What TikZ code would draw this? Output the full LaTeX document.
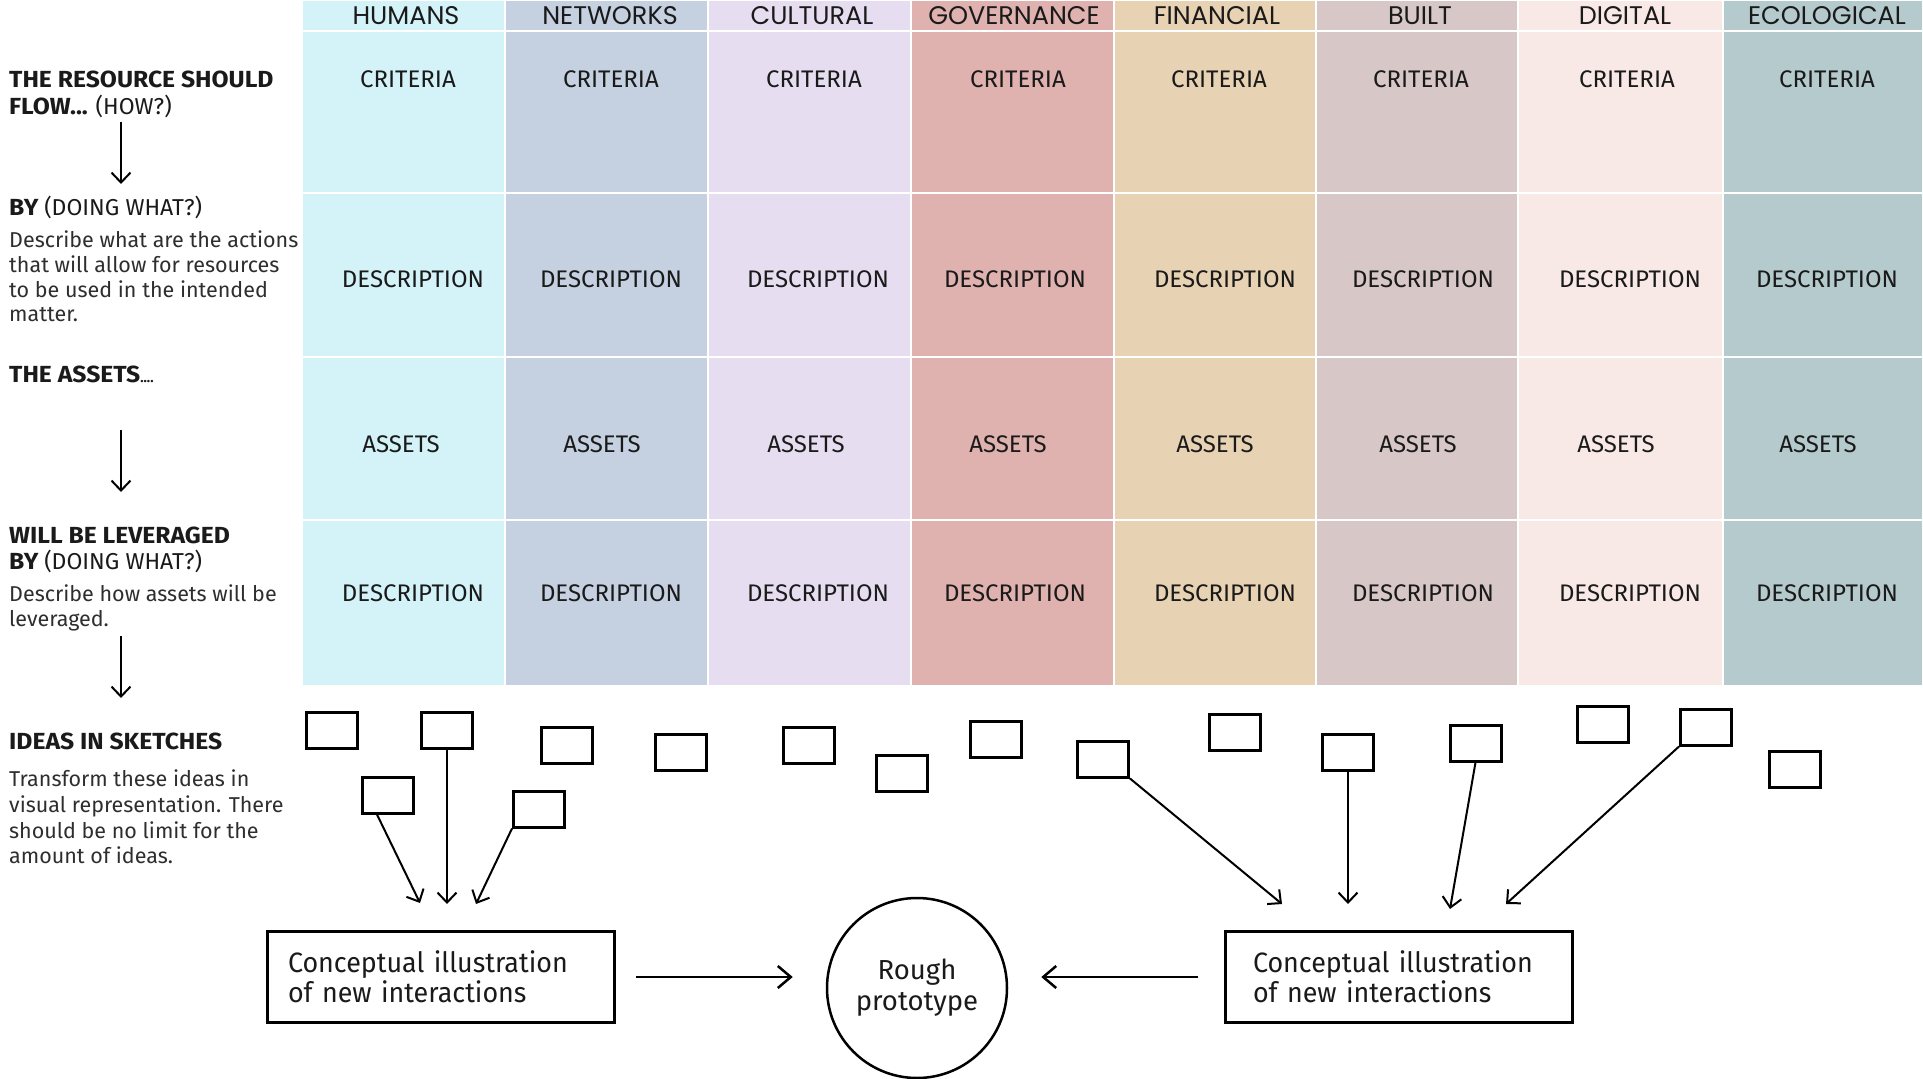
\documentclass[tikz,border=0pt]{standalone}
\usepackage{fontspec}
\setmainfont{Fira Sans}
\newfontfamily\hdfont{Poppins}
\newfontfamily\boxfont{Fira Sans}[FakeStretch=0.96]
\newfontfamily\widefont{Fira Sans}[FakeStretch=1.06]
\usetikzlibrary{arrows.meta}
\definecolor{cHum}{HTML}{D3F3F8}
\definecolor{cNet}{HTML}{C5D0E0}
\definecolor{cCul}{HTML}{E6DEF0}
\definecolor{cGov}{HTML}{DFB1AF}
\definecolor{cFin}{HTML}{E8D2B4}
\definecolor{cBui}{HTML}{D7C7C6}
\definecolor{cDig}{HTML}{F8E9E6}
\definecolor{cEco}{HTML}{B4CACC}
\definecolor{ink}{HTML}{1A1A1A}
\definecolor{body}{HTML}{2E2E2E}
\tikzset{
  hdtext/.style={anchor=base, inner sep=0pt, text=ink, font=\hdfont\fontsize{25.5}{28}\selectfont},
  celltext/.style={anchor=base, inner sep=0pt, text=ink, font=\fontsize{24}{28}\selectfont},
  lefttitle/.style={anchor=base west, inner sep=0pt, text=ink, font=\widefont\bfseries\fontsize{23.3}{26}\selectfont},
  leftbody/.style={anchor=base west, inner sep=0pt, text=body, font=\fontsize{21.5}{25}\selectfont},
  sq/.style={draw=black, line width=3pt, minimum width=51pt, minimum height=36pt, inner sep=0pt},
  cbox/.style={draw=black, line width=3pt, minimum width=347pt, minimum height=91pt, inner sep=0pt,
     text width=306pt, align=left, text=ink, font=\boxfont\fontsize{28}{30}\selectfont},
  proto/.style={draw=black, circle, line width=2.5pt, minimum size=180pt, inner sep=0pt,
     align=center, text=ink, font=\fontsize{27.5}{31}\selectfont},
  sarr/.style={draw=black, line width=2pt, -{Straight Barb[length=10pt,width=19pt,line width=2pt]}},
  barr/.style={draw=black, line width=2.5pt, -{Straight Barb[length=13pt,width=22pt,line width=2.5pt]}},
}
\newcommand\subtxt[1]{{\normalfont\fontsize{23}{26}\selectfont #1}}
\begin{document}
\begin{tikzpicture}[x=1pt,y=-1pt]
\useasboundingbox (0,0) rectangle (1923,1079);
\fill[white] (0,0) rectangle (1923,1079);
% grid cells
\foreach \xa/\xb/\c in {302/505/cHum,505/708/cNet,708/911/cCul,911/1114/cGov,1114/1316/cFin,1316/1518/cBui,1518/1723/cDig,1723/1923/cEco}{
  \foreach \ya/\yb in {0/31,31/193,193/357,357/520,520/686}{
    \filldraw[fill=\c, draw=white, line width=1.5pt] (\xa,\ya) rectangle (\xb,\yb);
  }
}
% headers
\foreach \x/\t [count=\i] in {406/HUMANS,610/NETWORKS,812/CULTURAL,1014/GOVERNANCE,1217/FINANCIAL,1420/BUILT,1625/DIGITAL,1827/ECOLOGICAL}{
  \node[hdtext] (h\i) at (\x,24) {\t};
}
\foreach \x [count=\i] in {408,611,814,1018,1219,1421,1627,1827}{
  \node[celltext] (c\i) at (\x,87) {CRITERIA};
}
\foreach \x [count=\i] in {413,611,818,1015,1225,1423,1630,1827}{
  \node[celltext] (d\i) at (\x,287) {DESCRIPTION};
  \node[celltext] (e\i) at (\x,601) {DESCRIPTION};
}
\foreach \x [count=\i] in {401,602,806,1008,1215,1418,1616,1818}{
  \node[celltext] (a\i) at (\x,452) {ASSETS};
}
% left column
\node[lefttitle] (t1) at (9,87) {THE RESOURCE SHOULD};
\node[lefttitle] (t2) at (9,114) {FLOW... \subtxt{(HOW?)}};
\node[lefttitle] (t3) at (9,215) {BY \subtxt{(DOING WHAT?)}};
\node[leftbody] (t4) at (9,247) {Describe what are the actions};
\node[leftbody] (t5) at (9,272) {that will allow for resources};
\node[leftbody] (t6) at (9,297) {to be used in the intended};
\node[leftbody] (t7) at (9,321) {matter.};
\node[lefttitle] (t8) at (9,382) {THE ASSETS{\fontsize{13}{15}\selectfont....}};
\node[lefttitle] (t9) at (9,543) {WILL BE LEVERAGED};
\node[lefttitle] (t10) at (9,569) {BY \subtxt{(DOING WHAT?)}};
\node[leftbody] (t11) at (9,601) {Describe how assets will be};
\node[leftbody] (t12) at (9,626) {leveraged.};
\node[lefttitle] (t13) at (9,749) {IDEAS IN SKETCHES};
\node[leftbody] (t14) at (9,786) {Transform these ideas in};
\node[leftbody] (t15) at (9,812) {visual representation. There};
\node[leftbody] (t16) at (9,838) {should be no limit for the};
\node[leftbody] (t17) at (9,863) {amount of ideas.};
% left flow arrows
\coordinate (f1a) at (121,122); \coordinate (f1b) at (121,184);
\coordinate (f2a) at (121,430); \coordinate (f2b) at (121,492);
\coordinate (f3a) at (121,636); \coordinate (f3b) at (121,698);
\draw[sarr] (f1a) -- (f1b);
\draw[sarr] (f2a) -- (f2b);
\draw[sarr] (f3a) -- (f3b);
% sketch squares
\foreach \x/\y [count=\i] in {332/730,447/730,567/745,681/752,809/745,902/773,996/739,1103/759,1235/732,1348/752,1475.5/743,1603/724,1706/727,1794.5/769,388/795,539/809}{
  \node[sq] (s\i) at (\x,\y) {};
}
% boxes and prototype
\node[cbox] (lb) at (441,977) {Conceptual illustration\\of new interactions};
\node[cbox, text width=292pt] (rb) at (1399,977) {Conceptual illustration\\of new interactions};
\node[proto] (rp) at (917,988) {Rough\\prototype};
% arrow targets
\coordinate (p1) at (420,903);
\coordinate (p2) at (447,904);
\coordinate (p3) at (476,904);
\coordinate (q1) at (1282,904);
\coordinate (q2) at (1348,904);
\coordinate (q3) at (1450,909);
\coordinate (q4) at (1506,904);
\draw[sarr] ([xshift=-11pt]s15.south) -- (p1);
\draw[sarr] (s2.south) -- (p2);
\draw[sarr] (s16.south west) -- (p3);
\draw[sarr] (s8.south east) -- (q1);
\draw[sarr] (s10.south) -- (q2);
\draw[sarr] (s11.south) -- (q3);
\draw[sarr] (s13.south west) -- (q4);
\path (rp.west |- lb.east) coordinate (rpl);
\path (rp.east |- rb.west) coordinate (rpr);
\draw[barr] ([xshift=20pt]lb.east) -- ([xshift=-33pt]rpl);
\draw[barr] ([xshift=-26pt]rb.west) -- ([xshift=33pt]rpr);
\end{tikzpicture}
\end{document}
